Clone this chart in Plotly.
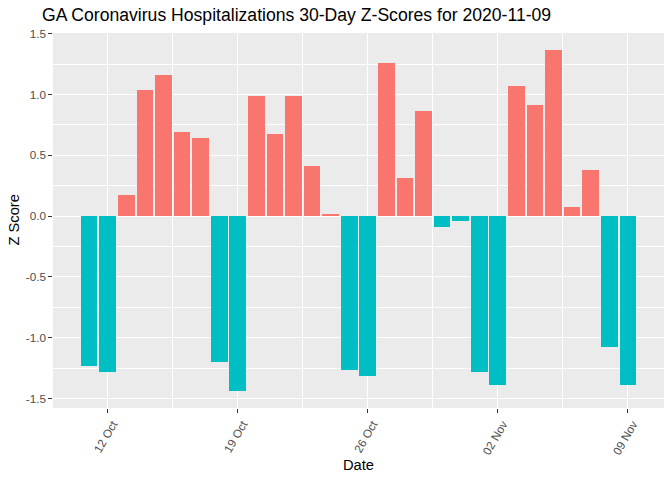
import plotly.graph_objects as go

dates = ["2020-10-11", "2020-10-12", "2020-10-13", "2020-10-14", "2020-10-15",
         "2020-10-16", "2020-10-17", "2020-10-18", "2020-10-19", "2020-10-20",
         "2020-10-21", "2020-10-22", "2020-10-23", "2020-10-24", "2020-10-25",
         "2020-10-26", "2020-10-27", "2020-10-28", "2020-10-29", "2020-10-30",
         "2020-10-31", "2020-11-01", "2020-11-02", "2020-11-03", "2020-11-04",
         "2020-11-05", "2020-11-06", "2020-11-07", "2020-11-08", "2020-11-09"]
z_scores = [-1.233, -1.282, 0.177, 1.038, 1.158,
            0.693, 0.644, -1.200, -1.438, 0.989,
            0.677, 0.989, 0.412, 0.021, -1.266,
            -1.315, 1.259, 0.316, 0.866, -0.093,
            -0.044, -1.282, -1.389, 1.070, 0.915,
            1.366, 0.079, 0.382, -1.077, -1.389]

x_ticks = ["2020-10-12", "2020-10-19", "2020-10-26", "2020-11-02", "2020-11-09"]
x_tick_labels = ["12 Oct", "19 Oct", "26 Oct", "02 Nov", "09 Nov"]
x_minor = ["2020-10-15 12:00", "2020-10-22 12:00", "2020-10-29 12:00", "2020-11-05 12:00"]
y_ticks = [-1.5, -1.0, -0.5, 0.0, 0.5, 1.0, 1.5]
y_tick_labels = ["-1.5", "-1.0", "-0.5", "0.0", "0.5", "1.0", "1.5"]
y_minor = [-1.25, -0.75, -0.25, 0.25, 0.75, 1.25]

POS = "#F8766D"
NEG = "#00BFC4"
colors = [POS if v > 0 else NEG for v in z_scores]
DAY = 86400000

fig = go.Figure(go.Bar(x=dates, y=z_scores, width=[0.9 * DAY] * len(dates),
                       marker=dict(color=colors, line=dict(width=0)),
                       showlegend=False))

font = "Liberation Sans, Arial, sans-serif"
fig.update_layout(
    width=672, height=480,
    margin=dict(l=53, r=8, t=33, b=72, autoexpand=False),
    paper_bgcolor="white", plot_bgcolor="#EBEBEB",
    font=dict(family=font),
    bargap=0,
    title=dict(text="GA Coronavirus Hospitalizations 30-Day Z-Scores for 2020-11-09",
               x=42 / 672, xanchor="left", xref="container",
               y=1 - 15 / 480, yanchor="middle", yref="container",
               font=dict(size=17.6, color="black", family=font)),
    xaxis=dict(type="date", automargin=False,
               range=["2020-10-09 01:19", "2020-11-10 22:41"],
               tickvals=x_ticks, ticktext=x_tick_labels, tickangle=-60,
               ticklabelshift=5,
               ticks="outside", ticklen=3.7, tickwidth=1.07, tickcolor="#333333",
               tickfont=dict(size=11.7, color="#4D4D4D", family=font),
               showgrid=True, gridcolor="white", gridwidth=1.07,
               minor=dict(tickvals=x_minor, showgrid=True, gridcolor="white", gridwidth=0.53, ticks=""),
               zeroline=False, showline=False),
    yaxis=dict(range=[-1.578, 1.506], automargin=False,
               tickvals=y_ticks, ticktext=y_tick_labels,
               ticks="outside", ticklen=3.7, tickwidth=1.07, tickcolor="#333333",
               tickfont=dict(size=11.7, color="#4D4D4D", family=font),
               showgrid=True, gridcolor="white", gridwidth=1.07,
               minor=dict(tickvals=y_minor, showgrid=True, gridcolor="white", gridwidth=0.53, ticks=""),
               zeroline=False, showline=False),
    annotations=[
        dict(text="Z Score", xref="paper", yref="paper", x=(13 - 53) / 611, y=0.5,
             xanchor="center", yanchor="middle", textangle=-90, showarrow=False,
             font=dict(size=14.7, color="black", family=font)),
        dict(text="Date", xref="paper", yref="paper", x=0.5, y=-(465 - 408) / 375,
             xanchor="center", yanchor="middle", showarrow=False,
             font=dict(size=14.7, color="black", family=font)),
    ],
)

fig.write_html("out.html",
               config={"displayModeBar": False},
               post_script="document.body.style.margin='0';document.body.style.padding='0';")
